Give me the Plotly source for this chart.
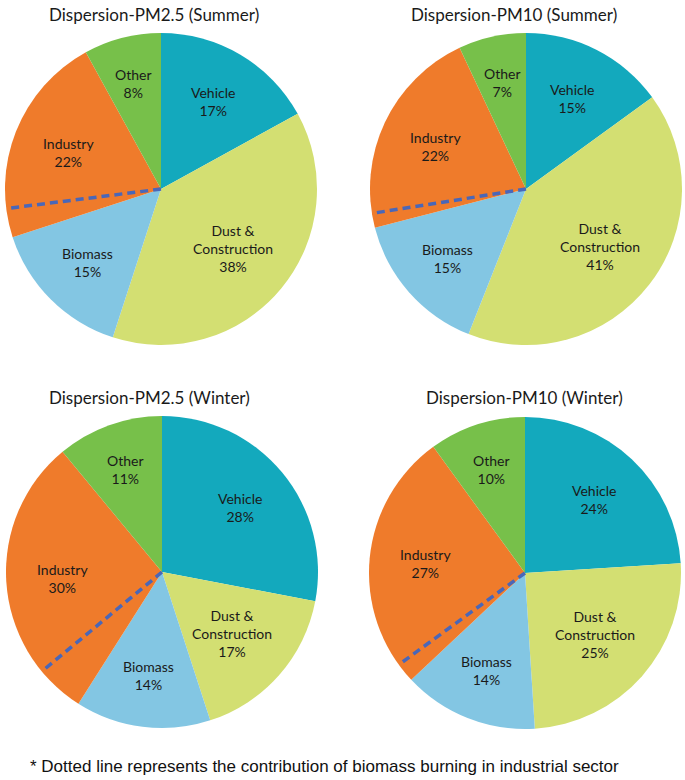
import math
import plotly.graph_objects as go

# ---------------- data ----------------
categories = ["Vehicle", "Dust &<br>Construction", "Biomass", "Industry", "Other"]
titles = ["Dispersion-PM2.5 (Summer)", "Dispersion-PM10 (Summer)",
          "Dispersion-PM2.5 (Winter)", "Dispersion-PM10 (Winter)"]
pm25_summer = [17, 38, 15, 22, 8]
pm10_summer = [15, 41, 15, 22, 7]
pm25_winter = [28, 17, 14, 30, 11]
pm10_winter = [24, 25, 14, 27, 10]
# share of total attributable to biomass burning inside the industry slice (dashed line)
industry_biomass = [3, 1.5, 5, 2]
footnote = "* Dotted line represents the contribution of biomass burning in industrial sector"

# ---------------- style / layout ----------------
W, H = 685, 780
colors = ["#13A9BD", "#D3DF72", "#83C6E3", "#EF7B2B", "#77C04A"]
centers = [(161, 189), (526, 189), (162, 572), (525, 573)]
title_pos = [(154, 14), (514, 14), (149, 397), (524, 397)]
R = 156
label_radius = [0.65, 0.60, 0.67, 0.64, 0.70]  # fraction of radius, per slice category
label_font = dict(family="Lato", size=14, color="#1a1a1a")
title_font = dict(family="Lato", size=17, color="#1a1a1a")

series = [pm25_summer, pm10_summer, pm25_winter, pm10_winter]

fig = go.Figure()
annotations = []
shapes = []


def px(x, y):
    return x / W, 1 - y / H


for i, vals in enumerate(series):
    cx, cy = centers[i]
    x0, y1 = px(cx - R, cy - R)
    x1, y0 = px(cx + R, cy + R)
    fig.add_trace(go.Pie(
        values=vals, labels=[c.replace("<br>", " ") for c in categories],
        sort=False, direction="clockwise", rotation=0,
        marker=dict(colors=colors, line=dict(width=0)),
        textinfo="none", hoverinfo="label+percent",
        domain=dict(x=[x0, x1], y=[y0, y1]), showlegend=False,
    ))
    total = sum(vals)
    cum = 0
    for k, (cat, v) in enumerate(zip(categories, vals)):
        mid = 2 * math.pi * (cum + v / 2) / total
        lr = label_radius[k] * R
        lx = cx + lr * math.sin(mid)
        ly = cy - lr * math.cos(mid)
        ax, ay = px(lx, ly)
        pct = round(100 * v / total)
        annotations.append(dict(x=ax, y=ay, xref="paper", yref="paper",
                                text=f"{cat}<br>{pct}%", showarrow=False,
                                font=label_font, xanchor="center", yanchor="middle"))
        cum += v
    # dashed line inside industry slice
    start_ind = sum(vals[:3])
    theta = 2 * math.pi * (start_ind + industry_biomass[i]) / total
    ex = cx + R * math.sin(theta)
    ey = cy - R * math.cos(theta)
    sx0, sy0 = px(cx, cy)
    sx1, sy1 = px(ex, ey)
    shapes.append(dict(type="line", xref="paper", yref="paper",
                       x0=sx0, y0=sy0, x1=sx1, y1=sy1,
                       line=dict(color="#4A67B8", width=3.5, dash="8px,5px")))
    tx, ty = px(*title_pos[i])
    annotations.append(dict(x=tx, y=ty, xref="paper", yref="paper", text=titles[i],
                            showarrow=False, font=title_font,
                            xanchor="center", yanchor="middle"))

fx, fy = px(28, 766)
annotations.append(dict(x=fx, y=fy, xref="paper", yref="paper", text=footnote,
                        showarrow=False, xanchor="left", yanchor="middle",
                        font=dict(family="Liberation Sans", size=17, color="#111111")))

fig.update_layout(width=W, height=H, margin=dict(l=0, r=0, t=0, b=0),
                  paper_bgcolor="white", plot_bgcolor="white",
                  annotations=annotations, shapes=shapes)
fig.write_html("out.html", config={"displayModeBar": False},
               post_script="document.body.style.margin='0';document.body.style.padding='0';")
